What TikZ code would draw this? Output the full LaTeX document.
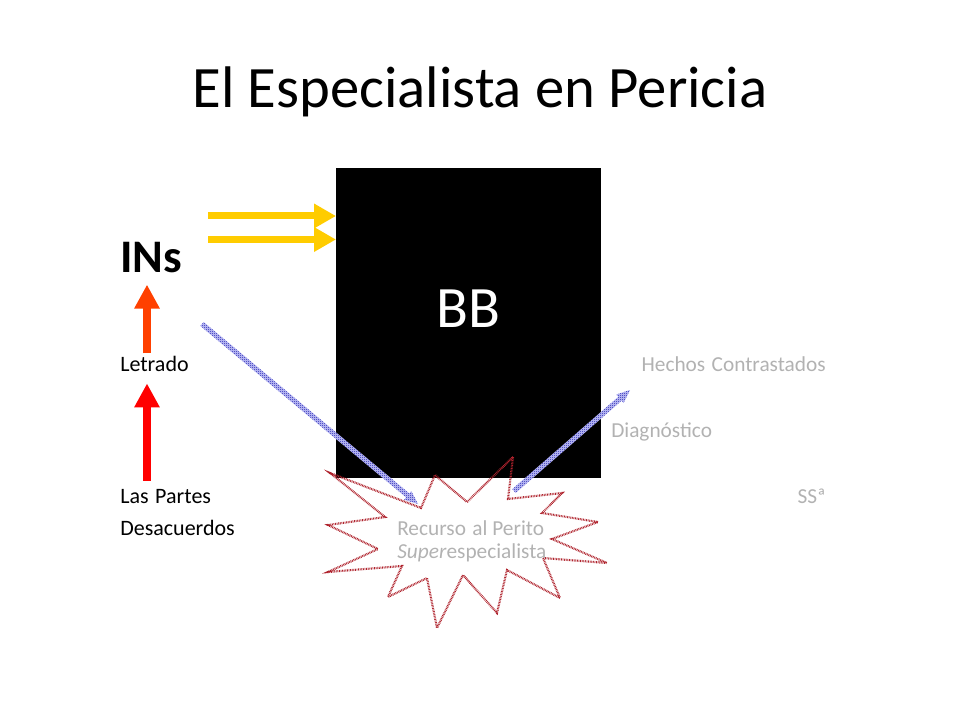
\documentclass[tikz,border=0pt]{standalone}
\usepackage{fontspec}
\setmainfont{Carlito}
\usetikzlibrary{arrows.meta,calc,patterns}
\definecolor{ygold}{RGB}{255,204,0}
\definecolor{oarr}{RGB}{255,64,0}
\definecolor{rarr}{RGB}{255,0,0}
\definecolor{lgray}{RGB}{178,178,178}
\definecolor{starred}{RGB}{175,35,45}
\definecolor{bluepat}{RGB}{20,20,170}
\definecolor{bluebg}{RGB}{200,200,250}
\pgfdeclarepatternformonly{finedots}{\pgfpointorigin}{\pgfqpoint{1.5pt}{1.5pt}}{\pgfqpoint{1.5pt}{1.5pt}}{%
  \pgfpathrectangle{\pgfpointorigin}{\pgfqpoint{0.75pt}{0.75pt}}%
  \pgfpathrectangle{\pgfqpoint{0.75pt}{0.75pt}}{\pgfqpoint{0.75pt}{0.75pt}}%
  \pgfusepath{fill}}
\tikzset{
  lbl/.style={anchor=base west,inner sep=0pt,font=\fontsize{16.5}{19}\selectfont},
  glbl/.style={inner sep=0pt,font=\fontsize{16}{19}\selectfont,text=lgray},
  yarrow/.style={draw=ygold,line width=5.25pt,-{Triangle[length=16.5pt,width=17.5pt]}},
  uparrow/.style={line width=6pt,-{Triangle[length=18pt,width=18pt]}},
  blueband/.style={fill=bluebg,postaction={pattern=finedots,pattern color=bluepat}},
}
\begin{document}
\begin{tikzpicture}[x=0.75pt,y=-0.75pt]
\useasboundingbox (0,0) rectangle (960,720);
% title
\node[anchor=base,inner sep=0pt,font=\fontsize{44}{52}\selectfont] (title) at (480,108) {El Especialista en Pericia};
% black box
\node[fill=black,minimum width=198.75pt,minimum height=232.5pt,inner sep=0pt,anchor=north west] (bb) at (336,168) {};
\node[text=white,font=\fontsize{44}{52}\selectfont,anchor=base,inner sep=0pt] (bbl) at (468,327) {BB};
% left texts
\node[anchor=base west,inner sep=0pt,font=\bfseries\fontsize{35}{40}\selectfont] (ins) at (120,273) {INs};
\node[lbl] (let) at (120,371) {Letrado};
\node[lbl] (lp) at (120,503) {Las\hspace{0.3em}Partes};
\node[lbl] (des) at (120,535) {Desacuerdos};
% right texts
\node[glbl,anchor=base east] (hc) at (826,371) {Hechos\hspace{0.3em}Contrastados};
\node[glbl,anchor=base west] (dg) at (611,437) {Diagnóstico};
\node[glbl,anchor=base east] (ss) at (826,503) {SSª};
% star
\draw[starred,line width=1.6pt,dash pattern=on 0.6pt off 0.6pt,line join=miter]
 (513,457)--(508,499)--(562,493)--(542,513)--(598,522)--(552,539)--(607,563)--(543,558)--(560,598)--(507,570)--(497,613)--(463,575)--(437,628)--(427,578)--(388,597)--(402,566)--(328,572)--(378,549)--(328,525)--(385,517)--(330,473)--(421,508)--(435,475)--(467,502)--cycle;
\node[glbl,anchor=base west] (rp) at (397,535) {Recurso\hspace{0.3em}al Perito};
\node[glbl,anchor=base west] (rs) at (397,558) {\textit{Super}especialista};
% yellow arrows
\coordinate (y1) at (208,216);
\coordinate (y2) at (208,239.5);
\draw[yarrow] (y1) -- (y1 -| bb.west);
\draw[yarrow] (y2) -- (y2 -| bb.west);
% up arrows
\coordinate (ax) at (147,0);
\draw[uparrow,draw=rarr] ($(ax |- lp.north)+(0,-8)$) -- ($(ax |- let.south)+(0,12)$);
\draw[uparrow,draw=oarr] ($(ax |- let.north)+(0,-2)$) -- ($(ax |- ins.south)+(0,11)$);
% blue arrows
\coordinate (a1) at (202,324);
\coordinate (b1) at (418,504);
\coordinate (a2) at (514,491);
\coordinate (b2) at (630,390);
\foreach \A/\B in {a1/b1,a2/b2}{
  \coordinate (h) at ($(\B)!10pt!(\A)$);
  \path[blueband] ($(\A)!1.9pt!90:(\B)$) -- ($(h)!1.9pt!90:(\B)$) -- ($(h)!4.2pt!90:(\B)$) -- (\B)
    -- ($(h)!4.2pt!-90:(\B)$) -- ($(h)!1.9pt!-90:(\B)$) -- ($(\A)!1.9pt!-90:(\B)$) -- cycle;
}
\end{tikzpicture}
\end{document}
